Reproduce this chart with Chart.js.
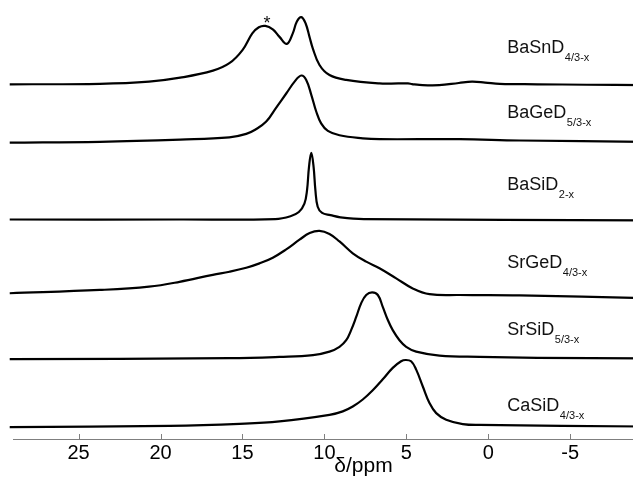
<!DOCTYPE html>
<html>
<head>
<meta charset="utf-8">
<script src="https://cdn.jsdelivr.net/npm/chart.js@4/dist/chart.umd.min.js"></script>
<style>
  html, body { margin: 0; padding: 0; background: #fff; overflow: hidden; }
  #wrap { width: 715px; height: 479px; }
</style>
</head>
<body>
<div id="wrap"><canvas id="c" width="715" height="479"></canvas></div>
<script>
// 2H MAS NMR spectra of the hydride-deuterides, stacked top to bottom.
const compounds  = ['BaSnD', 'BaGeD', 'BaSiD', 'SrGeD', 'SrSiD', 'CaSiD'];
const subscripts = ['4/3-x', '5/3-x', '2-x', '4/3-x', '5/3-x', '4/3-x'];
// vertical stacking of each spectrum (baseline level, arbitrary units)
const baselines  = [8.08, 6.75, 5.00, 3.32, 1.82, 0.27];

// chemical shift (ppm) and intensity of each trace
const shiftBaSnD = [29.2, 23.7, 20.7, 18.8, 16.8, 15.8, 15.0, 14.4, 14.0, 13.6, 13.15, 12.74, 12.29, 11.93, 11.68, 11.41, 11.15, 10.91, 10.71, 10.30, 9.69, 8.67, 6.64, 5.5, 4.9, 4.65, 4.2, 3.0, 1.8, 1.0, 0.2, -0.7, -3.0, -6.0, -9.5];
const intBaSnD   = [0, 0.01, 0.06, 0.15, 0.31, 0.48, 0.78, 1.16, 1.30, 1.33, 1.25, 1.08, 0.92, 1.16, 1.43, 1.53, 1.39, 1.08, 0.82, 0.44, 0.21, 0.10, 0.02, 0.02, 0.02, 0.005, -0.015, -0.02, 0.03, 0.06, 0.04, 0.01, 0.0, -0.01, -0.02];

const shiftBaGeD = [29.2, 23.7, 18.8, 15.8, 14.77, 14.2, 13.55, 12.94, 12.33, 11.82, 11.41, 11.11, 10.80, 10.50, 10.20, 9.79, 9.08, 7.66, 6.64, 1.76, -1.9, -9.5];
const intBaGeD   = [0, 0.02, 0.07, 0.12, 0.20, 0.30, 0.48, 0.80, 1.12, 1.39, 1.53, 1.43, 1.09, 0.71, 0.44, 0.27, 0.17, 0.10, 0.08, 0.08, 0.05, 0.02];

const shiftBaSiD = [29.2, 18.8, 13.0, 12.07, 11.56, 11.22, 11.06, 10.94, 10.80, 10.66, 10.55, 10.41, 10.14, 9.63, 9.02, 7.6, -9.5];
const intBaSiD   = [0, 0, 0.01, 0.075, 0.17, 0.36, 0.67, 1.20, 1.52, 1.20, 0.67, 0.29, 0.15, 0.10, 0.05, 0.01, -0.02];

const shiftSrGeD = [29.2, 23.7, 20.7, 18.84, 16.81, 15.79, 14.77, 13.96, 13.15, 12.33, 11.52, 10.9, 10.30, 9.69, 9.08, 8.27, 7.45, 6.64, 5.62, 4.61, 3.59, 1.76, -1.9, -9.5];
const intSrGeD   = [0, 0.075, 0.15, 0.26, 0.42, 0.49, 0.58, 0.68, 0.81, 1.00, 1.22, 1.37, 1.42, 1.35, 1.18, 0.91, 0.72, 0.57, 0.34, 0.11, -0.02, -0.04, -0.05, -0.11];

const shiftSrSiD = [29.2, 15.79, 12.74, 10.70, 9.69, 9.08, 8.67, 8.37, 8.06, 7.76, 7.45, 7.09, 6.74, 6.44, 6.13, 5.83, 5.42, 5.01, 4.40, 2.98, 0.54, -3.0, -9.5];
const intSrSiD   = [0, 0.02, 0.05, 0.09, 0.17, 0.28, 0.43, 0.66, 0.96, 1.27, 1.46, 1.52, 1.46, 1.19, 0.89, 0.66, 0.43, 0.28, 0.17, 0.08, 0.05, 0.03, 0.015];

const shiftCaSiD = [29.2, 19.45, 15.18, 12.74, 9.69, 8.88, 8.27, 7.66, 7.05, 6.44, 5.83, 5.32, 5.05, 4.71, 4.40, 3.99, 3.59, 3.18, 2.57, 1.56, 0.54, -9.5];
const intCaSiD   = [0, 0.03, 0.075, 0.13, 0.28, 0.36, 0.47, 0.63, 0.84, 1.09, 1.35, 1.50, 1.53, 1.50, 1.31, 0.92, 0.55, 0.32, 0.17, 0.07, 0.05, 0.015];

const shifts = [shiftBaSnD, shiftBaGeD, shiftBaSiD, shiftSrGeD, shiftSrSiD, shiftCaSiD];
const intensities = [intBaSnD, intBaGeD, intBaSiD, intSrGeD, intSrSiD, intCaSiD];

// ppm axis
const axisMin = -13.77;
const axisMax = 29.0;
const tickStep = 5;

const FONT = "'Liberation Sans', Arial, Helvetica, sans-serif";

// label placement in data units (left edge shift, text baseline level)
const labelShift = -1.16;
const labelLevels = [8.80, 7.31, 5.67, 3.89, 2.37, 0.64];
const starShift = 13.51;
const starLevel = 9.35;

const datasets = compounds.map((name, k) => ({
  label: name + subscripts[k],
  data: shifts[k].map((s, i) => ({ x: s, y: baselines[k] + intensities[k][i] })),
  borderColor: '#000',
  borderWidth: 2.2,
  pointRadius: 0,
  fill: false,
  tension: 0.4,
  clip: { left: 4, top: 6, right: 0, bottom: 2 }
}));

const decorations = {
  id: 'decorations',
  afterDraw(chart) {
    const { ctx, scales: { x, y }, chartArea } = chart;
    ctx.save();
    // inward tick marks on the ppm axis
    ctx.strokeStyle = '#7f7f7f';
    ctx.lineWidth = 1;
    x.ticks.forEach(t => {
      const px = Math.round(x.getPixelForValue(t.value)) + 0.5;
      ctx.beginPath();
      ctx.moveTo(px, chartArea.bottom);
      ctx.lineTo(px, chartArea.bottom - 5);
      ctx.stroke();
    });
    // compound labels with subscripts
    ctx.fillStyle = '#111';
    ctx.textAlign = 'left';
    ctx.textBaseline = 'alphabetic';
    compounds.forEach((name, k) => {
      const px = x.getPixelForValue(labelShift);
      const py = y.getPixelForValue(labelLevels[k]);
      ctx.font = '18px ' + FONT;
      ctx.fillText(name, px, py);
      const w = ctx.measureText(name).width;
      ctx.font = '11px ' + FONT;
      ctx.fillText(subscripts[k], px + w + 0.5, py + 8);
    });
    // asterisk marking the impurity peak
    ctx.font = '18px ' + FONT;
    ctx.textAlign = 'center';
    ctx.fillText('*', x.getPixelForValue(starShift), y.getPixelForValue(starLevel));
    ctx.restore();
  }
};

new Chart(document.getElementById('c'), {
  type: 'line',
  data: { datasets },
  plugins: [decorations],
  options: {
    responsive: false,
    animation: false,
    events: [],
    layout: { padding: { left: 13, right: 1, top: 0, bottom: 0 } },
    plugins: { legend: { display: false }, tooltip: { enabled: false } },
    scales: {
      x: {
        type: 'linear',
        reverse: true,
        min: axisMin,
        max: axisMax,
        border: { display: true, color: '#7f7f7f', width: 1 },
        grid: { display: false, drawTicks: false },
        ticks: {
          stepSize: tickStep,
          includeBounds: false,
          autoSkip: false,
          maxRotation: 0,
          padding: 2,
          color: '#000',
          font: { family: FONT, size: 20 }
        },
        title: {
          display: true,
          text: 'δ/ppm',
          color: '#000',
          font: { family: FONT, size: 21 },
          padding: { top: 0, bottom: 0 }
        },
        afterFit(scale) { scale.height = 40; }
      },
      y: { display: false, min: 0, max: 10 }
    }
  }
});
</script>
</body>
</html>
